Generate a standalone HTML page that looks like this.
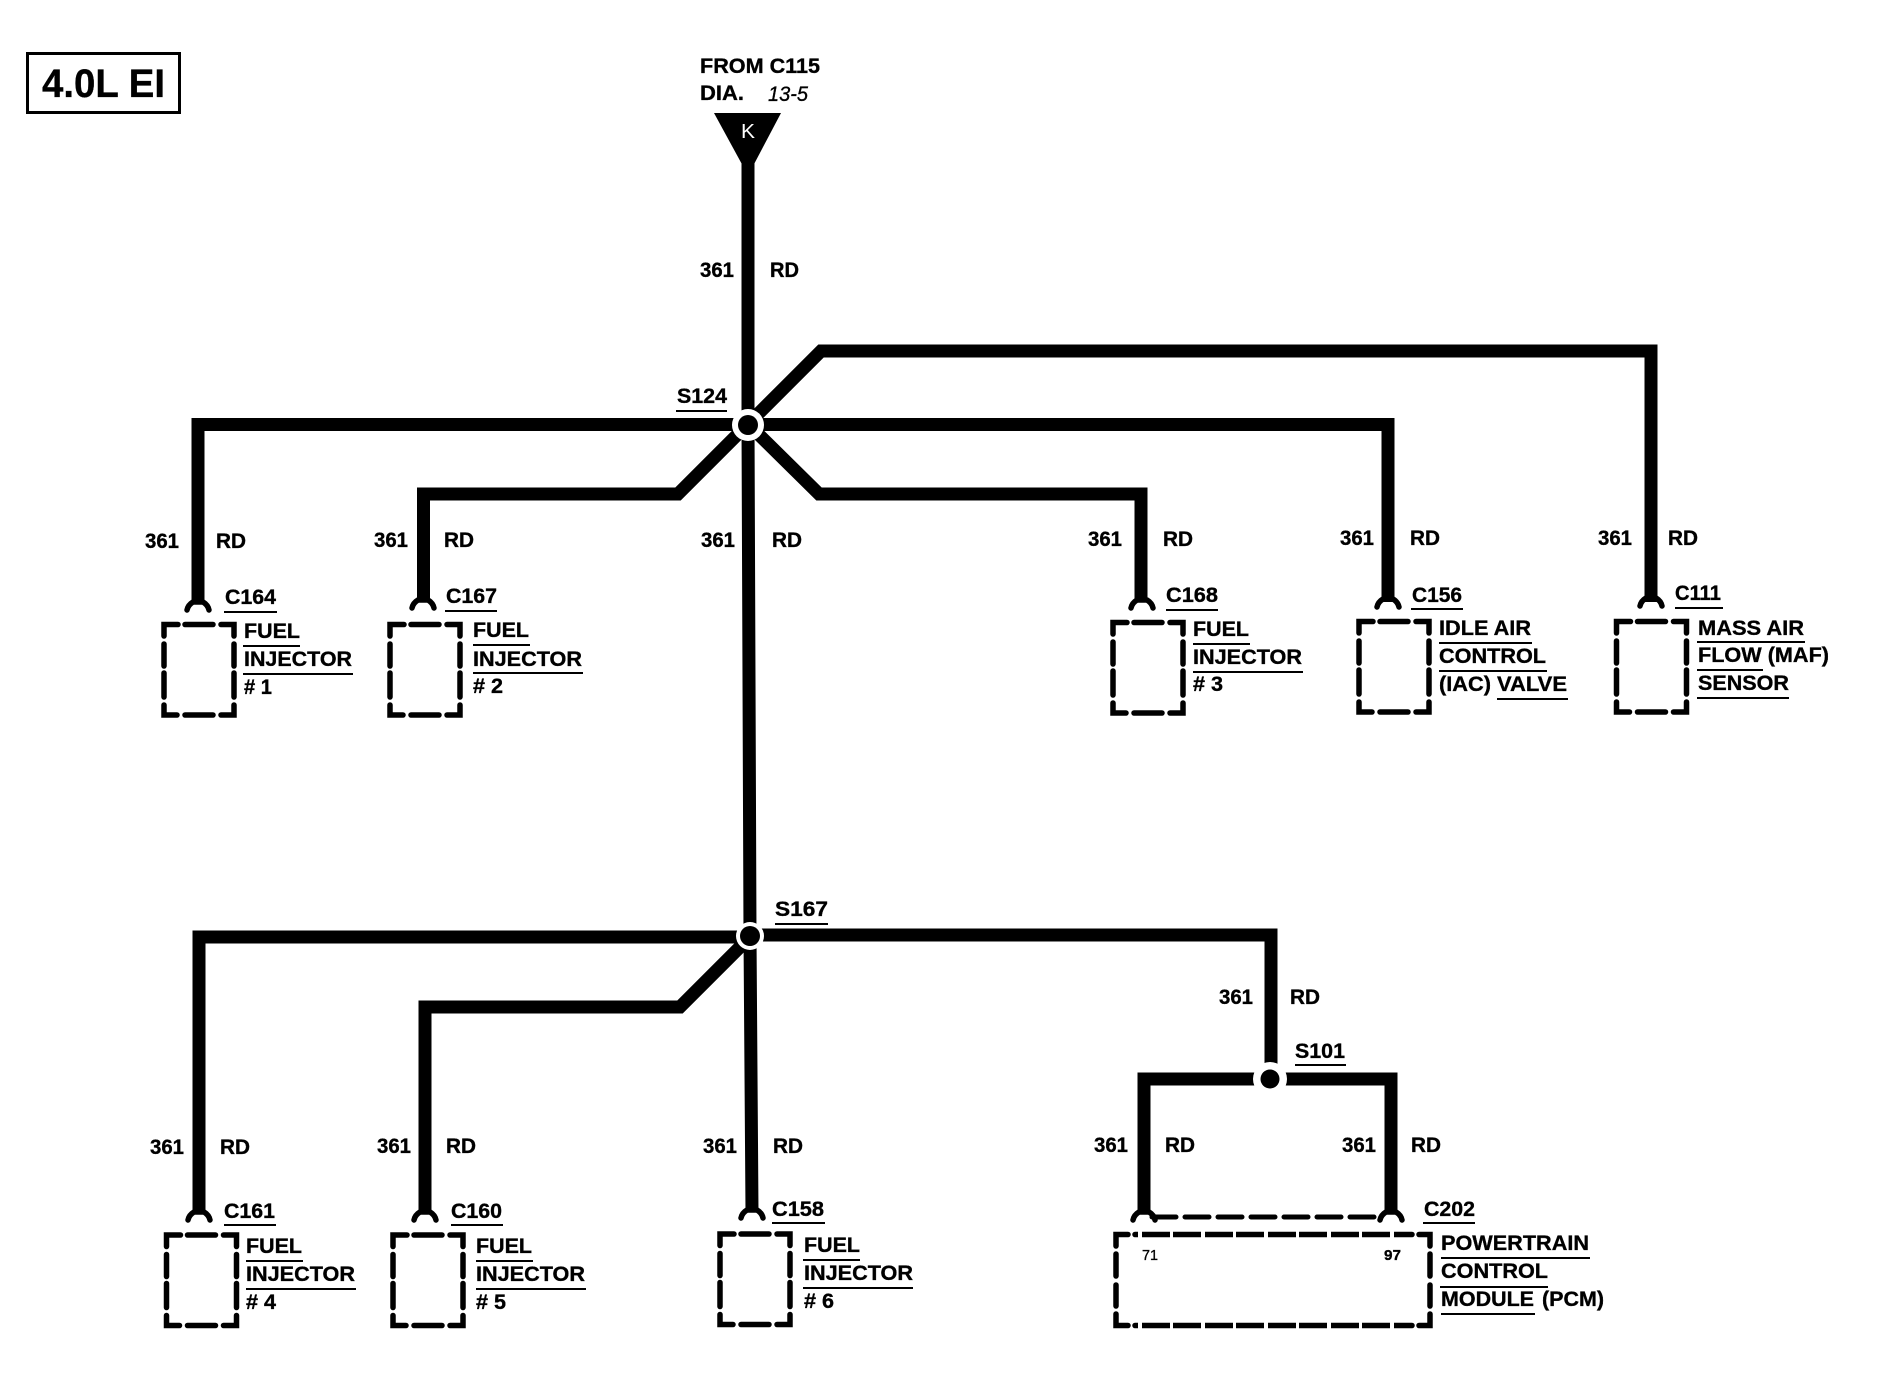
<!DOCTYPE html>
<html><head><meta charset="utf-8"><title>4.0L EI wiring diagram</title>
<style>
html,body{margin:0;padding:0;background:#fff}
svg{display:block}
text{font-family:"Liberation Sans",Arial,sans-serif;font-weight:bold;font-size:21.5px;fill:#000;stroke:#000;stroke-width:.35px}
.w{fill:none;stroke:#000;stroke-width:13;stroke-linejoin:miter;stroke-linecap:butt}
.u{fill:none;stroke:#000;stroke-width:2}
.d{fill:none;stroke:#000;stroke-width:5.5;stroke-linecap:round;stroke-linejoin:miter}
.f{fill:none;stroke:#000;stroke-width:5.5;stroke-linecap:round;stroke-linejoin:round}
</style></head><body>
<svg xmlns="http://www.w3.org/2000/svg" width="1882" height="1376" viewBox="0 0 1882 1376">
<defs>
<path id="box" class="d" d="M3,14V2.500H17M24,2.500H52M60,2.500H73V14M3,22V44M3,51V75M3,83V93H16M24,93H52M60,93H73V83M73,22V44M73,51V75"/>
<path id="fork" class="f" d="M-11,8Q-10,3-5,0H5Q10,3 11,8"/>
</defs>
<rect width="1882" height="1376" fill="#fff"/>

<!-- title -->
<rect x="27.500" y="53.500" width="152" height="59" fill="none" stroke="#000" stroke-width="3"/>
<text x="42" y="97" textLength="123" lengthAdjust="spacingAndGlyphs" style="font-size:40px">4.0L EI</text>
<text x="700" y="73" textLength="120" lengthAdjust="spacingAndGlyphs">FROM C115</text>
<text x="700" y="100" textLength="44" lengthAdjust="spacingAndGlyphs">DIA.</text>
<text x="768" y="101" textLength="40" lengthAdjust="spacingAndGlyphs" style="font-style:italic;font-weight:normal">13-5</text>
<polygon points="714,113 781,113 752,168 744,168" fill="#000"/>
<text x="741" y="138" textLength="14" lengthAdjust="spacingAndGlyphs" style="fill:#fff;stroke:none;font-weight:normal;font-size:20px">K</text>

<!-- wires -->
<path class="w" d="M748,160V424L750,936L752,1212"/>
<path class="w" d="M748,424L821,351H1651V602"/>
<path class="w" d="M198,602V424.500H1388V602"/>
<path class="w" d="M748,424L678,494H423.500V602"/>
<path class="w" d="M748,424L819,494H1141V602"/>
<path class="w" d="M199,1212V937H750L680,1007H425V1212"/>
<path class="w" d="M750,935H1271V1079"/>
<path class="w" d="M1144,1212V1079H1391V1212"/>

<!-- splices -->
<circle cx="748" cy="425" r="16" fill="#fff"/><circle cx="748" cy="425" r="10" fill="#000"/>
<circle cx="750" cy="936" r="14" fill="#fff"/><circle cx="750" cy="936" r="10" fill="#000"/>
<circle cx="1270" cy="1079" r="17" fill="#fff"/><circle cx="1270" cy="1079" r="9.500" fill="#000"/>

<!-- forks -->
<use href="#fork" x="198" y="602"/><use href="#fork" x="423" y="600"/><use href="#fork" x="1142" y="600"/>
<use href="#fork" x="1388" y="599"/><use href="#fork" x="1651" y="598"/>
<use href="#fork" x="199" y="1212"/><use href="#fork" x="425" y="1212"/><use href="#fork" x="752" y="1210"/>
<use href="#fork" x="1144" y="1212"/><use href="#fork" x="1391" y="1212"/>

<!-- boxes -->
<use href="#box" x="161" y="622"/><use href="#box" x="387" y="622"/><use href="#box" x="1110" y="620"/>
<use href="#box" x="1356" y="619"/><use href="#box" x="1613.500" y="619"/>
<use href="#box" x="163.500" y="1232.500"/><use href="#box" x="390" y="1232.500"/><use href="#box" x="717" y="1231.500"/>

<!-- C202 -->
<path class="d" style="stroke-width:5" stroke-dasharray="24 9" stroke-linecap="butt" d="M1152,1217H1382"/>
<path class="d" d="M1116,1246V1234.500H1128M1135,1234.500H1412M1419,1234.500H1430V1246M1116,1254V1276M1116,1285V1306M1116,1314V1325.500H1128M1135,1325.500H1412M1419,1325.500H1430V1314M1430,1254V1276M1430,1285V1306" stroke-dasharray="none"/>
<path d="M1138,1234.500H1142M1170,1234.500H1173M1201,1234.500H1205M1233,1234.500H1236M1264,1234.500H1268M1296,1234.500H1299M1327,1234.500H1331M1359,1234.500H1362M1390,1234.500H1394M1138,1325.500H1142M1170,1325.500H1173M1201,1325.500H1205M1233,1325.500H1236M1264,1325.500H1268M1296,1325.500H1299M1327,1325.500H1331M1359,1325.500H1362M1390,1325.500H1394" stroke="#fff" stroke-width="8" fill="none"/>
<text x="1142" y="1260" textLength="16" lengthAdjust="spacingAndGlyphs" style="font-size:15px;font-weight:normal">71</text>
<text x="1384" y="1260" textLength="17" lengthAdjust="spacingAndGlyphs" style="font-size:15px">97</text>

<!-- 361 / RD -->
<g>
<text x="700" y="277" textLength="34" lengthAdjust="spacingAndGlyphs">361</text><text x="770" y="277" textLength="29" lengthAdjust="spacingAndGlyphs">RD</text>
<text x="145" y="548" textLength="34" lengthAdjust="spacingAndGlyphs">361</text><text x="216" y="548" textLength="30" lengthAdjust="spacingAndGlyphs">RD</text>
<text x="374" y="547" textLength="34" lengthAdjust="spacingAndGlyphs">361</text><text x="444" y="547" textLength="30" lengthAdjust="spacingAndGlyphs">RD</text>
<text x="701" y="547" textLength="34" lengthAdjust="spacingAndGlyphs">361</text><text x="772" y="547" textLength="30" lengthAdjust="spacingAndGlyphs">RD</text>
<text x="1088" y="546" textLength="34" lengthAdjust="spacingAndGlyphs">361</text><text x="1163" y="546" textLength="30" lengthAdjust="spacingAndGlyphs">RD</text>
<text x="1340" y="545" textLength="34" lengthAdjust="spacingAndGlyphs">361</text><text x="1410" y="545" textLength="30" lengthAdjust="spacingAndGlyphs">RD</text>
<text x="1598" y="545" textLength="34" lengthAdjust="spacingAndGlyphs">361</text><text x="1668" y="545" textLength="30" lengthAdjust="spacingAndGlyphs">RD</text>
<text x="150" y="1154" textLength="34" lengthAdjust="spacingAndGlyphs">361</text><text x="220" y="1154" textLength="30" lengthAdjust="spacingAndGlyphs">RD</text>
<text x="377" y="1153" textLength="34" lengthAdjust="spacingAndGlyphs">361</text><text x="446" y="1153" textLength="30" lengthAdjust="spacingAndGlyphs">RD</text>
<text x="703" y="1153" textLength="34" lengthAdjust="spacingAndGlyphs">361</text><text x="773" y="1153" textLength="30" lengthAdjust="spacingAndGlyphs">RD</text>
<text x="1219" y="1004" textLength="34" lengthAdjust="spacingAndGlyphs">361</text><text x="1290" y="1004" textLength="30" lengthAdjust="spacingAndGlyphs">RD</text>
<text x="1094" y="1152" textLength="34" lengthAdjust="spacingAndGlyphs">361</text><text x="1165" y="1152" textLength="30" lengthAdjust="spacingAndGlyphs">RD</text>
<text x="1342" y="1152" textLength="34" lengthAdjust="spacingAndGlyphs">361</text><text x="1411" y="1152" textLength="30" lengthAdjust="spacingAndGlyphs">RD</text>
</g>

<!-- splice labels -->
<text x="677" y="403" textLength="50" lengthAdjust="spacingAndGlyphs">S124</text><path class="u" d="M676,411H727"/>
<text x="775" y="916" textLength="53" lengthAdjust="spacingAndGlyphs">S167</text><path class="u" d="M775,924H828"/>
<text x="1295" y="1058" textLength="50" lengthAdjust="spacingAndGlyphs">S101</text><path class="u" d="M1295,1065H1346"/>

<!-- C164 -->
<text x="225" y="604" textLength="51" lengthAdjust="spacingAndGlyphs">C164</text><path class="u" d="M224,612H277"/>
<text x="244" y="638" textLength="56" lengthAdjust="spacingAndGlyphs">FUEL</text><path class="u" d="M243,646H300"/>
<text x="244" y="666" textLength="108" lengthAdjust="spacingAndGlyphs">INJECTOR</text><path class="u" d="M243,674H353"/>
<text x="244" y="694" textLength="28" lengthAdjust="spacingAndGlyphs"># 1</text>
<!-- C167 -->
<text x="446" y="603" textLength="51" lengthAdjust="spacingAndGlyphs">C167</text><path class="u" d="M445,611H497"/>
<text x="473" y="637" textLength="56" lengthAdjust="spacingAndGlyphs">FUEL</text><path class="u" d="M473,645H530"/>
<text x="473" y="666" textLength="109" lengthAdjust="spacingAndGlyphs">INJECTOR</text><path class="u" d="M473,673H583"/>
<text x="473" y="693" textLength="30" lengthAdjust="spacingAndGlyphs"># 2</text>
<!-- C168 -->
<text x="1166" y="602" textLength="52" lengthAdjust="spacingAndGlyphs">C168</text><path class="u" d="M1166,610H1218"/>
<text x="1193" y="636" textLength="56" lengthAdjust="spacingAndGlyphs">FUEL</text><path class="u" d="M1193,644H1250"/>
<text x="1193" y="664" textLength="109" lengthAdjust="spacingAndGlyphs">INJECTOR</text><path class="u" d="M1193,672H1303"/>
<text x="1193" y="691" textLength="30" lengthAdjust="spacingAndGlyphs"># 3</text>
<!-- C156 -->
<text x="1412" y="602" textLength="50" lengthAdjust="spacingAndGlyphs">C156</text><path class="u" d="M1411,609H1463"/>
<text x="1439" y="635" textLength="92" lengthAdjust="spacingAndGlyphs">IDLE AIR</text><path class="u" d="M1439,643H1532"/>
<text x="1439" y="663" textLength="107" lengthAdjust="spacingAndGlyphs">CONTROL</text><path class="u" d="M1439,671H1547"/>
<text x="1439" y="691" textLength="52" lengthAdjust="spacingAndGlyphs">(IAC)</text>
<text x="1497" y="691" textLength="70" lengthAdjust="spacingAndGlyphs">VALVE</text><path class="u" d="M1497,699H1568"/>
<!-- C111 -->
<text x="1675" y="600" textLength="46" lengthAdjust="spacingAndGlyphs">C111</text><path class="u" d="M1675,608H1723"/>
<text x="1698" y="635" textLength="106" lengthAdjust="spacingAndGlyphs">MASS AIR</text><path class="u" d="M1697,642H1805"/>
<text x="1698" y="662" textLength="131" lengthAdjust="spacingAndGlyphs">FLOW (MAF)</text><path class="u" d="M1697,670H1763"/>
<text x="1698" y="690" textLength="91" lengthAdjust="spacingAndGlyphs">SENSOR</text><path class="u" d="M1697,698H1789"/>
<!-- C161 -->
<text x="224" y="1218" textLength="51" lengthAdjust="spacingAndGlyphs">C161</text><path class="u" d="M224,1225H276"/>
<text x="246" y="1253" textLength="56" lengthAdjust="spacingAndGlyphs">FUEL</text><path class="u" d="M246,1261H303"/>
<text x="246" y="1281" textLength="109" lengthAdjust="spacingAndGlyphs">INJECTOR</text><path class="u" d="M246,1289H356"/>
<text x="246" y="1309" textLength="30" lengthAdjust="spacingAndGlyphs"># 4</text>
<!-- C160 -->
<text x="451" y="1218" textLength="51" lengthAdjust="spacingAndGlyphs">C160</text><path class="u" d="M451,1225H503"/>
<text x="476" y="1253" textLength="56" lengthAdjust="spacingAndGlyphs">FUEL</text><path class="u" d="M476,1261H533"/>
<text x="476" y="1281" textLength="109" lengthAdjust="spacingAndGlyphs">INJECTOR</text><path class="u" d="M476,1289H586"/>
<text x="476" y="1309" textLength="30" lengthAdjust="spacingAndGlyphs"># 5</text>
<!-- C158 -->
<text x="772" y="1216" textLength="52" lengthAdjust="spacingAndGlyphs">C158</text><path class="u" d="M772,1223H825"/>
<text x="804" y="1252" textLength="56" lengthAdjust="spacingAndGlyphs">FUEL</text><path class="u" d="M803,1260H860"/>
<text x="804" y="1280" textLength="109" lengthAdjust="spacingAndGlyphs">INJECTOR</text><path class="u" d="M803,1288H913"/>
<text x="804" y="1308" textLength="30" lengthAdjust="spacingAndGlyphs"># 6</text>
<!-- C202 -->
<text x="1424" y="1216" textLength="51" lengthAdjust="spacingAndGlyphs">C202</text><path class="u" d="M1423,1223H1475"/>
<text x="1441" y="1250" textLength="148" lengthAdjust="spacingAndGlyphs">POWERTRAIN</text><path class="u" d="M1441,1258H1590"/>
<text x="1441" y="1278" textLength="107" lengthAdjust="spacingAndGlyphs">CONTROL</text><path class="u" d="M1440,1287H1548"/>
<text x="1441" y="1306" textLength="93" lengthAdjust="spacingAndGlyphs">MODULE</text>
<text x="1542" y="1306" textLength="62" lengthAdjust="spacingAndGlyphs">(PCM)</text><path class="u" d="M1441,1314H1535"/>
</svg>
</body></html>
